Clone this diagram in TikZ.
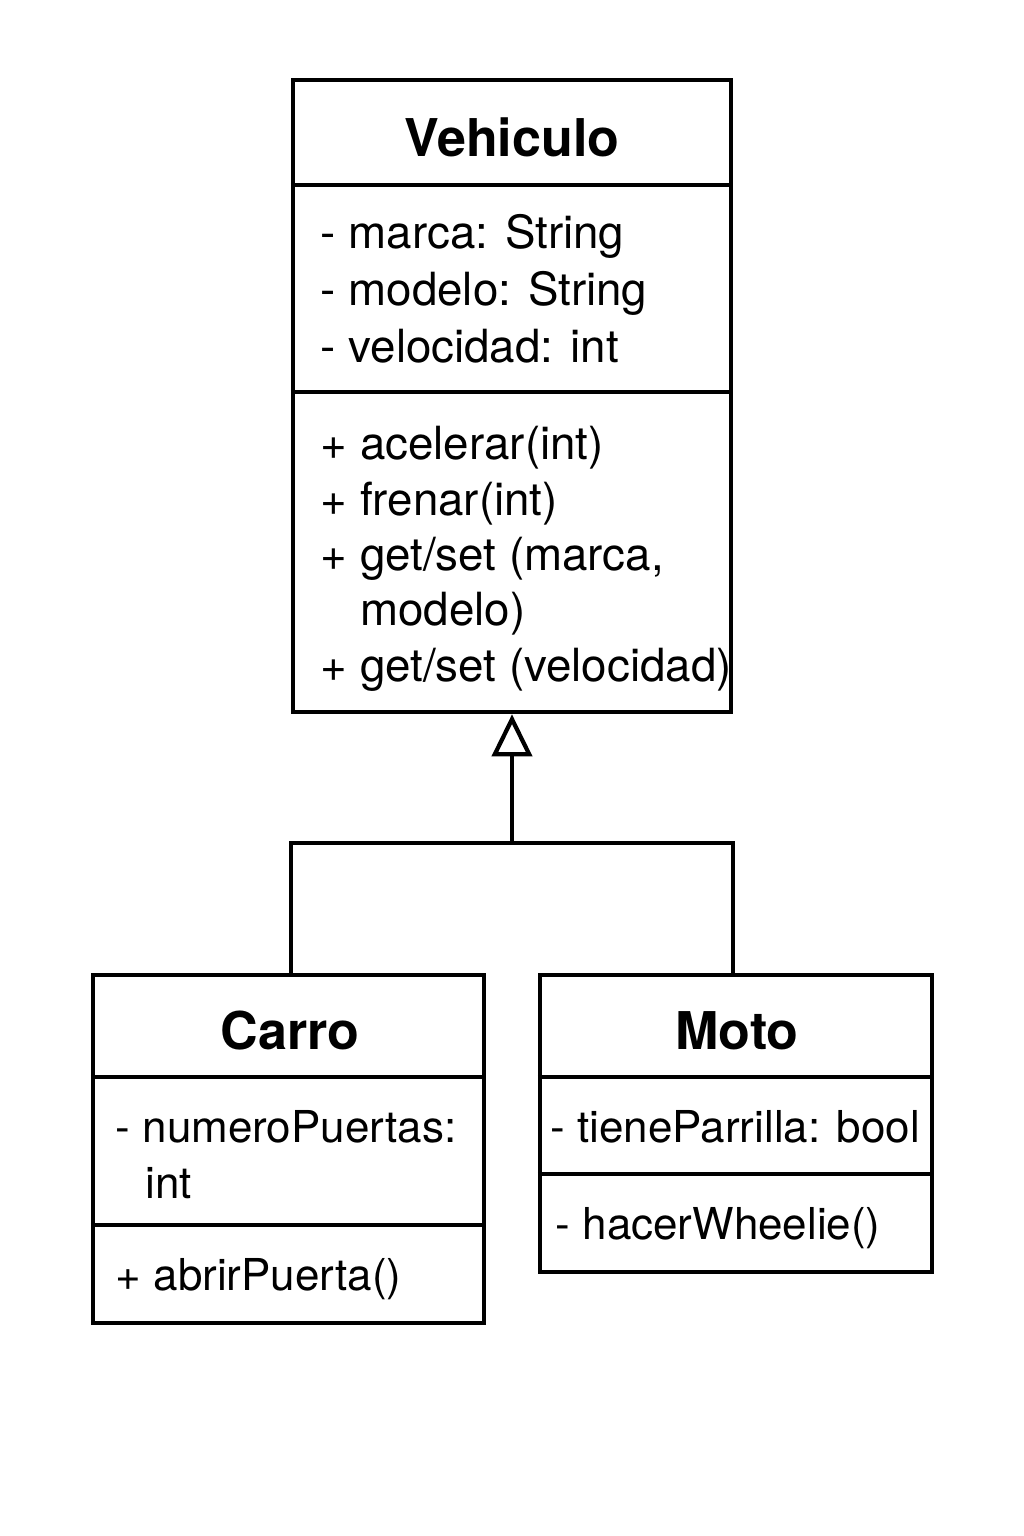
\documentclass[tikz,border=0pt]{standalone}
\usepackage{fontspec}
\setmainfont{TeX Gyre Heros}
\usetikzlibrary{arrows.meta}

\tikzset{
  classbox/.style={draw, line width=1.2pt, inner sep=0pt},
  classline/.style={line width=1.2pt},
  classname/.style={anchor=base, inner sep=0pt, font=\fontsize{14.8}{18}\selectfont\bfseries},
  member/.style={anchor=base west, inner sep=0pt, font=\fontsize{13}{16}\selectfont},
  submember/.style={member, font=\fontsize{12.5}{15}\selectfont},
}

\begin{document}
\begin{tikzpicture}[x=0.01cm, y=-0.01cm]
    \useasboundingbox (0,0) rectangle (1024,1536);

    % Vehiculo
    \node [classbox, minimum width=4.38cm, minimum height=6.32cm] (vehiculo) at (512,396) {};
    \draw [classline] (vehiculo.west |- 0,185) -- (vehiculo.east |- 0,185);
    \draw [classline] (vehiculo.west |- 0,392) -- (vehiculo.east |- 0,392);
    \node [classname] (vehiculoname) at (512,156) {Vehiculo};
    \node [member] (marca) at (320,248) {- marca: String};
    \node [member] (modelo) at (320,305) {- modelo: String};
    \node [member] (velocidad) at (320,362) {- velocidad: int};
    \node [member] (acelerar) at (320,459) {+ acelerar(int)};
    \node [member] (frenar) at (320,515) {+ frenar(int)};
    \node [member] (getmarca) at (320,570) {+ get/set (marca,};
    \node [member] (getmodelo) at (320,625) {\phantom{+ }modelo)};
    \node [member] (getvelocidad) at (320,681) {+ get/set (velocidad)};

    % Carro
    \node [classbox, minimum width=3.91cm, minimum height=3.48cm] (carro) at (288.5,1149) {};
    \draw [classline] (carro.west |- 0,1077) -- (carro.east |- 0,1077);
    \draw [classline] (carro.west |- 0,1225) -- (carro.east |- 0,1225);
    \node [classname] (carroname) at (290,1049) {Carro};
    \node [submember] (puertas) at (115,1142) {- numeroPuertas:};
    \node [submember] (puertastipo) at (145,1198) {int};
    \node [submember] (abrir) at (115,1290) {+ abrirPuerta()};

    % Moto
    \node [classbox, minimum width=3.92cm, minimum height=2.97cm] (moto) at (736,1123.5) {};
    \draw [classline] (moto.west |- 0,1077) -- (moto.east |- 0,1077);
    \draw [classline] (moto.west |- 0,1174) -- (moto.east |- 0,1174);
    \node [classname] (motoname) at (737,1049) {Moto};
    \node [submember] (parrilla) at (550,1142) {- tieneParrilla: bool};
    \node [submember] (wheelie) at (555,1239) {- hacerWheelie()};

    % herencia
    \coordinate (join) at (512,843);
    \draw [classline, -{Triangle[open, length=4.2mm, width=4mm]}] (join) -- (vehiculo.south);
    \draw [classline] (vehiculo.west |- carro.north) |- (join) -| (vehiculo.east |- moto.north);
\end{tikzpicture}
\end{document}
